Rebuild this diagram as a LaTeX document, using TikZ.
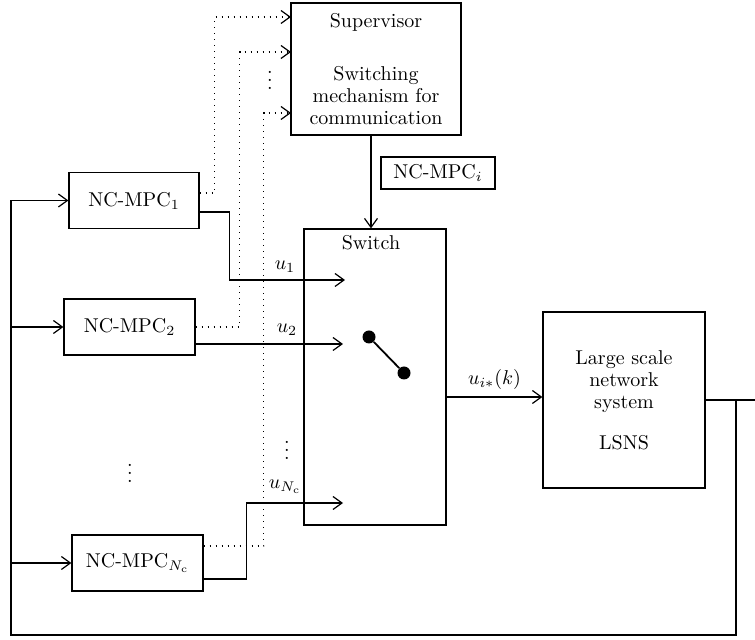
\documentclass[tikz,border=0pt]{standalone}
\usepackage{amsmath,amssymb}
\usetikzlibrary{arrows.meta,calc}

\begin{document}
\begin{tikzpicture}[x=0.5pt,y=-0.5pt,
  every node/.style={font=\fontsize{10}{11}\selectfont},
  block/.style={draw, line width=0.6pt, inner sep=0pt, align=center},
  wire/.style={line width=0.6pt},
  sig/.style={line width=0.6pt, -{Straight Barb[length=4.5pt,width=6.5pt]}},
  comm/.style={line width=0.6pt, dash pattern=on 0.6pt off 2.4pt,
    -{Straight Barb[length=4.5pt,width=6.5pt]}},
  contact/.style={circle, fill, inner sep=0pt, minimum size=6.5pt}]

\useasboundingbox (0,0) rectangle (755,640);

% Supervisor
\node[block, minimum width=85pt, minimum height=66pt] (sup) at (376,69)
  {Supervisor\\[15.5pt]Switching\\mechanism for\\communication};
\node[block, minimum width=57pt, minimum height=16pt] (tag) at (438,173) {NC-MPC$_i$};

% Switch
\node[block, minimum width=71pt, minimum height=148pt] (sw) at (375,377) {};
\node (swtxt) at (371,243) {Switch};
\node[contact] (c1) at (369,337) {};
\node[contact] (c2) at (404,373) {};
\draw[line width=0.9pt] (c1) -- (c2);

% Plant
\node[block, minimum width=81pt, minimum height=88pt] (sys) at (624,400)
  {Large scale\\network\\system\\[9.5pt]LSNS};

% Controllers
\node[block, minimum width=65pt, minimum height=28pt] (mpc1) at (134,200.5) {NC-MPC$_1$};
\node[block, minimum width=65.5pt, minimum height=28pt] (mpc2) at (129.5,327) {NC-MPC$_2$};
\node[block, minimum width=65.5pt, minimum height=28pt] (mpcN) at (137.5,563) {NC-MPC$_{N_\mathrm{c}}$};
\node (dotsC) at (130,467) {$\vdots$};

% Switch inputs
\coordinate (in1) at (345,280);
\coordinate (in2) at (343,344);
\coordinate (inN) at (343,503);
\draw[sig] ($(mpc1.east)+(0,11.5)$) -- ++(30,0) |- (in1);
\draw[sig] ($(mpc2.east)+(0,17)$) -- (in2);
\draw[sig] ($(mpcN.east)+(0,16)$) -- ++(43,0) |- (inN);
\node (lu1) at (285,267) {$u_1$};
\node (lu2) at (287,330) {$u_2$};
\node (luN) at (285,487) {$u_{N_\mathrm{c}}$};
\node (dotsU) at (287,444) {$\vdots$};

% Communication to supervisor
\coordinate (s1) at (291,17);
\coordinate (s2) at (291,52);
\coordinate (s3) at (291,113);
\draw[comm] ($(mpc1.east)+(0,-7.5)$) -- ++(15,0) |- (s1);
\draw[comm] (mpc2.east) -- ++(44,0) |- (s2);
\draw[comm] ($(mpcN.east)+(0,-17)$) -- ++(60,0) |- (s3);
\node (dotsS) at (270,74) {$\vdots$};

% Supervisor to switch, switch to plant
\draw[sig] ($(sup.south)+(-5,0)$) -- ($(sw.north)+(-4,0)$);
\coordinate (swout) at ($(sw.east)+(0,20)$);
\draw[sig] (swout) -- (swout -| sys.west) node[midway, above] {$u_{i*}(k)$};

% Feedback
\coordinate (fbout) at (755,400);
\coordinate (fbtap) at (736,400);
\coordinate (fbleft) at (11,635);
\draw[wire] (sys.east) -- (fbout);
\draw[sig] (fbtap) |- (fbleft) |- (mpc1.west);
\draw[sig] (fbleft |- mpc2.west) -- (mpc2.west);
\draw[sig] (fbleft |- mpcN.west) -- (mpcN.west);

\end{tikzpicture}
\end{document}
